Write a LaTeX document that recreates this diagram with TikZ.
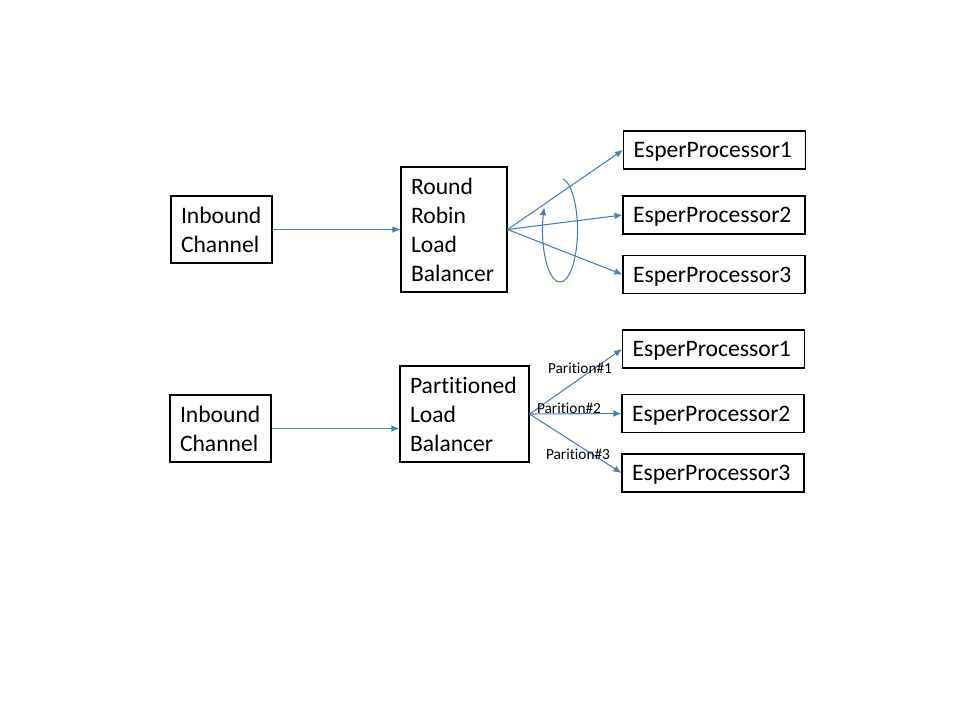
\documentclass[tikz,border=0pt]{standalone}
\usepackage{fontspec}
\setmainfont[Ligatures=NoCommon]{Carlito}
\usetikzlibrary{arrows.meta}
\definecolor{arrowblue}{RGB}{74,126,187}
\tikzset{
  box/.style={draw=black, line width=0.8pt, align=left, inner xsep=7.5pt, inner ysep=0pt,
    font=\fontsize{17.7}{21.75}\selectfont},
  smallbox/.style={box, minimum width=75.75pt, minimum height=50.25pt, text width=60.75pt},
  epbox/.style={box, minimum width=136.5pt, minimum height=28.5pt, text width=121.5pt, text depth=0pt},
  conn/.style={draw=arrowblue, line width=0.8pt, -{Latex[length=6pt,width=5pt]}},
  plabel/.style={font=\fontsize{11.5}{13}\selectfont, inner sep=0pt}
}
\begin{document}
\begin{tikzpicture}[x=0.75pt,y=-0.75pt]
\useasboundingbox[fill=white] (0,0) rectangle (960,720);
% top row
\node[smallbox] (in1) at (221.5,229.5) {Inbound\\Channel};
\node[box, minimum width=79.5pt, minimum height=93.75pt, text width=64.5pt] (rr) at (454,229.5) {Round\\Robin\\Load\\Balancer};
\node[epbox] (ep1a) at (714.5,150) {EsperProcessor1};
\node[epbox] (ep2a) at (714,215) {EsperProcessor2};
\node[epbox] (ep3a) at (714,274.5) {EsperProcessor3};
\draw[conn] (in1) -- (rr);
\draw[conn] (rr.east) -- (ep1a.west);
\draw[conn] (rr.east) -- (ep2a.west);
\draw[conn] (rr.east) -- (ep3a.west);
% rotation loop
\draw[draw=arrowblue, line width=0.8pt, -{Latex[length=6pt,width=5pt]}]
  plot[domain=80:-206, samples=80, smooth] ({560+17.5*cos(\x)},{230-52*sin(\x)});
% bottom row
\node[smallbox] (in2) at (220.5,428.5) {Inbound\\Channel};
\node[box, minimum width=96.75pt, minimum height=72pt, text width=81.75pt] (plb) at (464.5,414) {Partitioned\\Load\\Balancer};
\node[epbox] (ep1b) at (713.5,349) {EsperProcessor1};
\node[epbox] (ep2b) at (713,413.5) {EsperProcessor2};
\node[epbox] (ep3b) at (713,473) {EsperProcessor3};
\draw[conn] (in2.east) -- (plb.west |- in2.east);
\draw[conn] (plb.east) -- (ep1b.west);
\draw[conn] (plb.east) -- (ep2b.west);
\draw[conn] (plb.east) -- (ep3b.west);
\node[plabel] (p1) at (580,368) {Parition\#1};
\node[plabel] (p2) at (569,408) {Parition\#2};
\node[plabel] (p3) at (578,454) {Parition\#3};
\end{tikzpicture}
\end{document}
